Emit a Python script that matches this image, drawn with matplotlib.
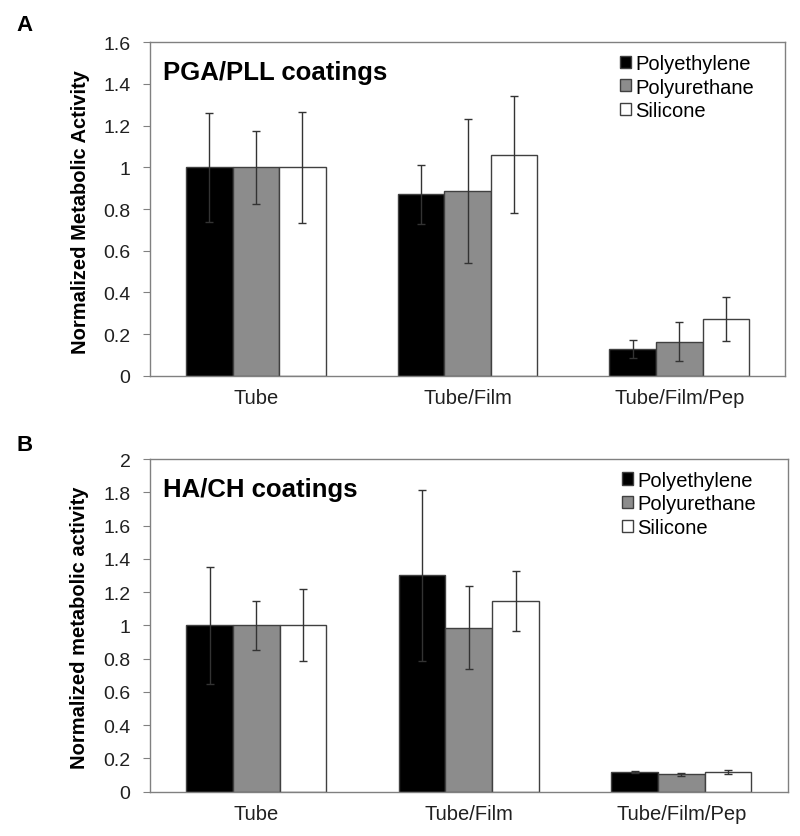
import matplotlib.pyplot as plt
import numpy as np

plt.rcParams['font.family'] = ['Liberation Sans', 'DejaVu Sans']

categories = ['Tube', 'Tube/Film', 'Tube/Film/Pep']
materials = ['Polyethylene', 'Polyurethane', 'Silicone']
colors = ['black', '#8c8c8c', 'white']

# panel A, PGA/PLL coatings
a_pe = [1.0, 0.87, 0.13]
a_pu = [1.0, 0.885, 0.165]
a_si = [1.0, 1.06, 0.275]
a_pe_err = [0.26, 0.14, 0.043]
a_pu_err = [0.175, 0.345, 0.092]
a_si_err = [0.265, 0.28, 0.105]

# panel B, HA/CH coatings
b_pe = [1.0, 1.30, 0.118]
b_pu = [1.0, 0.985, 0.105]
b_si = [1.0, 1.145, 0.118]
b_pe_err = [0.35, 0.515, 0.005]
b_pu_err = [0.147, 0.25, 0.008]
b_si_err = [0.217, 0.18, 0.014]


def draw_panel(ax, vals, errs, ymax, ystep, ylabel, title):
    x = np.arange(len(categories))
    w = 0.22
    for i in range(3):
        ax.bar(x + (i - 1) * w, vals[i], w, yerr=errs[i], color=colors[i],
               edgecolor='#404040', linewidth=1,
               error_kw=dict(ecolor='#333333', elinewidth=1, capsize=3, capthick=1),
               label=materials[i])
    ax.set_xlim(-0.5, 2.5)
    ax.set_ylim(0, ymax)
    ticks = np.arange(0, ymax + ystep / 2, ystep)
    ax.set_yticks(ticks)
    ax.set_yticklabels(['%g' % t for t in ticks])
    ax.set_xticks(x)
    ax.set_xticklabels(categories)
    ax.tick_params(axis='x', length=0, pad=9, labelsize=14.5, colors='#202020')
    ax.tick_params(axis='y', direction='out', length=5, color='#808080',
                   labelsize=14, pad=9, labelcolor='#202020')
    for s in ax.spines.values():
        s.set_color('#808080')
        s.set_linewidth(1)
    ax.set_ylabel(ylabel, fontsize=14.5, fontweight='bold')
    ax.yaxis.set_label_coords(-0.095, 0.495)
    ax.text(0.02, 0.945, title, transform=ax.transAxes, fontsize=18.5,
            fontweight='bold', va='top')
    ax.legend(loc='upper left', bbox_to_anchor=(0.74, 0.965), frameon=False,
              fontsize=14.5, handlelength=0.55, handleheight=0.55,
              handletextpad=0.2, labelspacing=0.24, borderpad=0,
              borderaxespad=0)


fig = plt.figure(figsize=(8, 8.37), dpi=100)
ax1 = fig.add_axes([0.1875, 0.5496, 0.794, 0.399])
ax2 = fig.add_axes([0.1875, 0.0529, 0.797, 0.3975])

draw_panel(ax1, [a_pe, a_pu, a_si], [a_pe_err, a_pu_err, a_si_err], 1.6, 0.2,
           'Normalized Metabolic Activity', 'PGA/PLL coatings')
draw_panel(ax2, [b_pe, b_pu, b_si], [b_pe_err, b_pu_err, b_si_err], 2.0, 0.2,
           'Normalized metabolic activity', 'HA/CH coatings')

fig.text(0.021, 0.982, 'A', fontsize=16, fontweight='bold', va='top')
fig.text(0.021, 0.480, 'B', fontsize=16, fontweight='bold', va='top')

fig.savefig('out.png', dpi=100)
